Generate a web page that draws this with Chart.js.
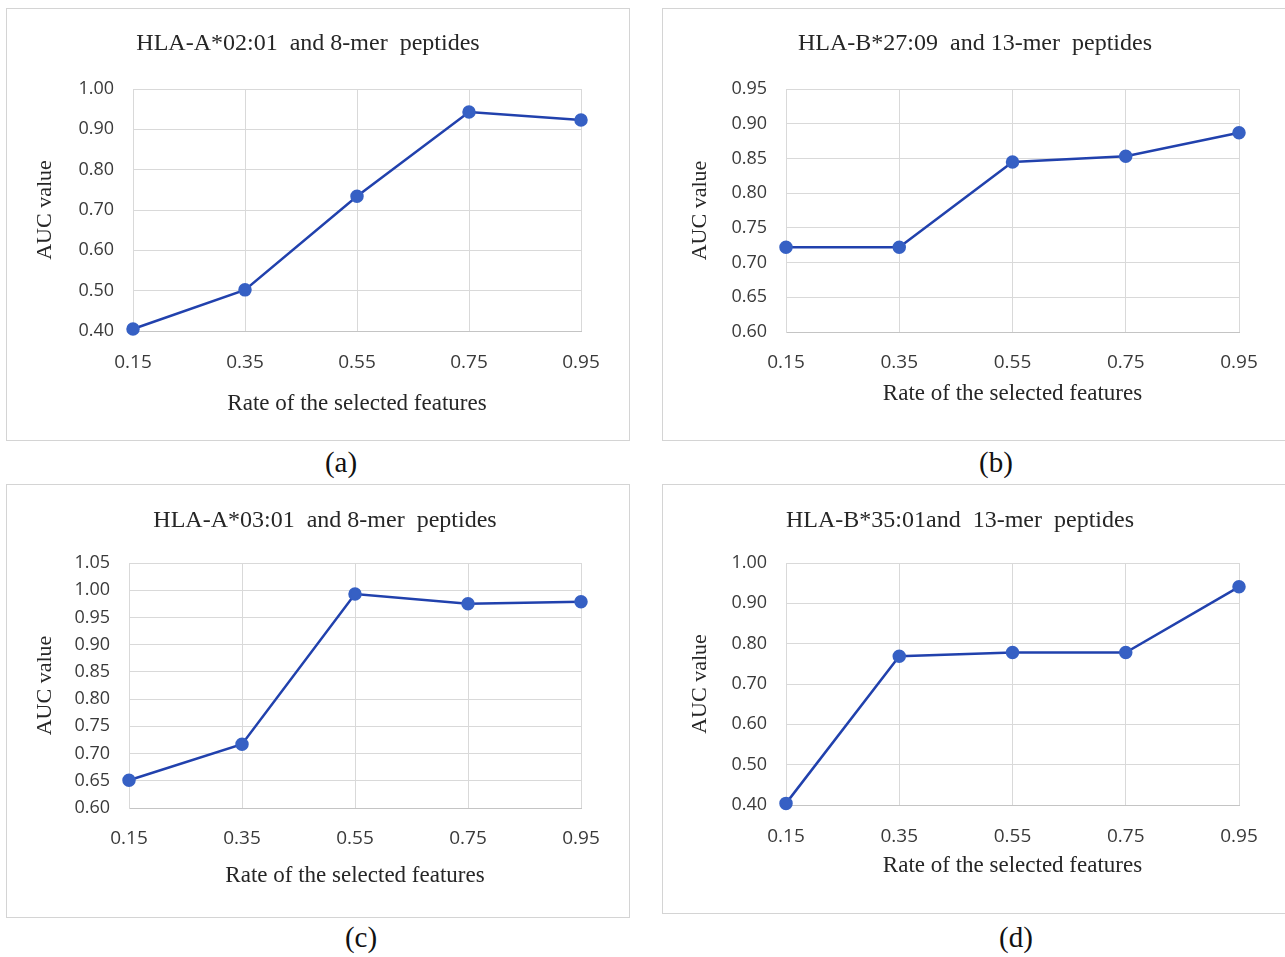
<!DOCTYPE html>
<html>
<head>
<meta charset="utf-8">
<script src="https://cdn.jsdelivr.net/npm/chart.js@4.4.1/dist/chart.umd.min.js"></script>
<style>
  html, body { margin: 0; padding: 0; background: #fff; }
  body { width: 1285px; height: 957px; position: relative; overflow: hidden; }
  .box { position: absolute; border: 1px solid #d4d4d4; background: #fff; }
  .box canvas { display: block; }
  .tag { position: absolute; font-family: 'Liberation Serif', serif; font-size: 29px; color: #111; transform: translate(-50%, -50%); }
</style>
</head>
<body>

<div class="box" style="left:6px;top:8px;"><canvas id="chart-a" width="622" height="431"></canvas></div>
<div class="box" style="left:662px;top:8px;"><canvas id="chart-b" width="622" height="431"></canvas></div>
<div class="box" style="left:6px;top:484px;"><canvas id="chart-c" width="622" height="432"></canvas></div>
<div class="box" style="left:662px;top:484px;"><canvas id="chart-d" width="622" height="428"></canvas></div>

<div class="tag" style="left:341px;top:462px;">(a)</div>
<div class="tag" style="left:996px;top:462px;">(b)</div>
<div class="tag" style="left:361px;top:937px;">(c)</div>
<div class="tag" style="left:1016px;top:937px;">(d)</div>

<script>
// --- Dades llegides de la figura ---
const rates = ['0.15', '0.35', '0.55', '0.75', '0.95'];

const aucA = [0.405, 0.502, 0.734, 0.943, 0.923];
const aucB = [0.722, 0.722, 0.845, 0.853, 0.887];
const aucC = [0.651, 0.717, 0.993, 0.975, 0.979];
const aucD = [0.404, 0.769, 0.778, 0.778, 0.941];

const titleA = 'HLA-A*02:01  and 8-mer  peptides';
const titleB = 'HLA-B*27:09  and 13-mer  peptides';
const titleC = 'HLA-A*03:01  and 8-mer  peptides';
const titleD = 'HLA-B*35:01and  13-mer  peptides';

const xTitle = 'Rate of the selected features';
const yTitle = 'AUC value';

// rangs eix Y: [min, max, pas]
const rangeA = [0.40, 1.00, 0.10];
const rangeB = [0.60, 0.95, 0.05];
const rangeC = [0.60, 1.05, 0.05];
const rangeD = [0.40, 1.00, 0.10];

// --- Estil ---
const LINE = '#2141ad';
const DOT = '#3660c4';
const GRID = '#d9d9d9';
const TICK = '#3a3a3a';
const SERIF = "'Liberation Serif', 'Times New Roman', serif";
const SANS = "'Open Sans', 'Noto Sans', sans-serif";

const T_SIZE = 24, X_SIZE = 23, Y_SIZE = 22;

// lay: pad = marge esquerre (centra el títol), left = vora esquerra del plot,
// top = dalt del plot, right = marge dret, xh = alçada eix X,
// titleY / yTitle / xTitle = posicions dels títols dins del canvas
function makePanel(id, title, data, range, lay) {
    const [yMin, yMax, yStep] = range;
    return new Chart(document.getElementById(id), {
        type: 'line',
        data: {
            labels: rates,
            datasets: [{
                data,
                borderColor: LINE,
                backgroundColor: DOT,
                borderWidth: 2.5,
                pointRadius: 5.5,
                pointBackgroundColor: DOT,
                pointBorderColor: DOT,
                tension: 0,
                clip: false,
            }]
        },
        options: {
            responsive: false,
            animation: false,
            layout: { padding: { left: lay.pad, right: lay.right, top: 0, bottom: 0 } },
            plugins: {
                legend: { display: false },
                tooltip: { enabled: false },
                title: {
                    display: true,
                    text: title,
                    color: '#262626',
                    font: { family: SERIF, size: T_SIZE, weight: 'normal', lineHeight: 1.2 },
                    padding: { top: lay.titleY - T_SIZE * 0.6, bottom: lay.top - lay.titleY - T_SIZE * 0.6 },
                },
            },
            scales: {
                x: {
                    offset: false,
                    grid: { color: GRID, drawTicks: false },
                    border: { color: '#c4c4c4' },
                    ticks: { color: TICK, font: { family: SANS, size: 19 }, padding: lay.tickX, maxRotation: 0 },
                    title: {
                        display: true, text: xTitle, color: '#262626',
                        font: { family: SERIF, size: X_SIZE, lineHeight: 1.2 },
                        padding: { top: 0, bottom: lay.xTitle - X_SIZE * 0.6 },
                    },
                    afterFit: s => { s.height = lay.xh; },
                },
                y: {
                    min: yMin, max: yMax,
                    grid: { color: GRID, drawTicks: false },
                    border: { color: GRID },
                    ticks: {
                        stepSize: yStep, color: TICK, padding: 19,
                        font: { family: SANS, size: 18 },
                        callback: v => Number(v).toFixed(2),
                    },
                    title: {
                        display: true, text: yTitle, color: '#262626',
                        font: { family: SERIF, size: Y_SIZE, lineHeight: 1.2 },
                        padding: { top: lay.yTitle - lay.pad - Y_SIZE * 0.6, bottom: 0 },
                    },
                    afterFit: s => { s.width = lay.left - lay.pad; },
                },
            },
        },
    });
}

makePanel('chart-a', titleA, aucA, rangeA, { pad: 28, left: 126, top: 80, right: 48, xh: 109, titleY: 35, yTitle: 38, xTitle: 36, tickX: 20 });
makePanel('chart-b', titleB, aucB, rangeB, { pad: 48, left: 123, top: 80, right: 46, xh: 108, titleY: 35, yTitle: 37, xTitle: 46, tickX: 19 });
makePanel('chart-c', titleC, aucC, rangeC, { pad: 62, left: 122, top: 78, right: 48, xh: 109, titleY: 36, yTitle: 38, xTitle: 41, tickX: 19 });
makePanel('chart-d', titleD, aucD, rangeD, { pad: 18, left: 123, top: 78, right: 46, xh: 108, titleY: 36, yTitle: 37, xTitle: 47, tickX: 20 });
</script>
</body>
</html>
